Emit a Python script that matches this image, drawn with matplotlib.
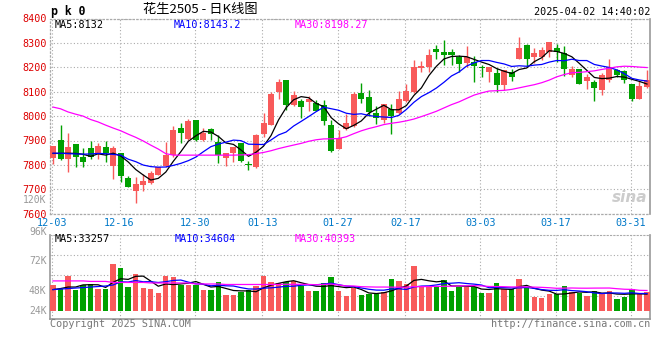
import matplotlib
matplotlib.use("Agg")
import matplotlib.pyplot as plt
import matplotlib.transforms as mtransforms
import numpy as np
import pandas as pd

# ---- data ----
dates = ["12-03", "12-04", "12-05", "12-06", "12-09", "12-10", "12-11", "12-12", "12-13",
         "12-16", "12-17", "12-18", "12-19", "12-20", "12-23", "12-24", "12-25", "12-26",
         "12-27", "12-30", "12-31", "01-02", "01-03", "01-06", "01-07", "01-08", "01-09",
         "01-10", "01-13", "01-14", "01-15", "01-16", "01-17", "01-20", "01-21", "01-22",
         "01-23", "01-24", "01-27", "02-05", "02-06", "02-07", "02-10", "02-11", "02-12",
         "02-13", "02-14", "02-17", "02-18", "02-19", "02-20", "02-21", "02-24", "02-25",
         "02-26", "02-27", "02-28", "03-03", "03-04", "03-05", "03-06", "03-07", "03-10",
         "03-11", "03-12", "03-13", "03-14", "03-17", "03-18", "03-19", "03-20", "03-21",
         "03-24", "03-25", "03-26", "03-27", "03-28", "03-31", "04-01", "04-02"]

opens = [7829, 7902, 7824, 7885, 7833, 7869, 7850, 7873, 7795, 7847,
         7746, 7694, 7719, 7727, 7759, 7795, 7840, 7952, 7906, 7983,
         7902, 7948, 7894, 7829, 7847, 7889, 7803, 7790, 7925, 7964,
         8098, 8147, 8046, 8063, 8058, 8054, 8045, 7964, 7867, 7946,
         7958, 8094, 8079, 8012, 7984, 8030, 8014, 8060, 8098, 8198,
         8201, 8273, 8262, 8262, 8242, 8219, 8220, 8201, 8181, 8175,
         8126, 8181, 8235, 8293, 8242, 8242, 8262, 8280, 8259, 8167,
         8191, 8144, 8140, 8106, 8147, 8187, 8185, 8130, 8072, 8120]
highs = [7879, 7963, 7932, 7887, 7869, 7899, 7888, 7899, 7877, 7849,
         7756, 7750, 7761, 7776, 7793, 7895, 7959, 7970, 7989, 7985,
         7950, 7950, 7921, 7849, 7875, 7891, 7814, 7925, 8014, 8098,
         8152, 8149, 8102, 8072, 8082, 8065, 8065, 7984, 7943, 8007,
         8098, 8136, 8106, 8041, 8050, 8049, 8103, 8133, 8228, 8224,
         8273, 8293, 8312, 8276, 8251, 8286, 8248, 8210, 8203, 8198,
         8190, 8194, 8323, 8295, 8280, 8282, 8305, 8296, 8286, 8204,
         8193, 8174, 8147, 8178, 8235, 8194, 8187, 8133, 8144, 8190]
lows = [7805, 7822, 7771, 7791, 7791, 7824, 7824, 7813, 7743, 7731,
        7709, 7643, 7694, 7722, 7757, 7793, 7833, 7888, 7904, 7900,
        7900, 7902, 7809, 7797, 7813, 7810, 7780, 7788, 7916, 7962,
        8069, 8025, 8040, 7993, 8022, 8020, 7964, 7852, 7865, 7944,
        7956, 8054, 8000, 7969, 7973, 7928, 8008, 8058, 8096, 8181,
        8181, 8235, 8208, 8208, 8181, 8201, 8140, 8160, 8140, 8099,
        8106, 8144, 8232, 8201, 8219, 8228, 8244, 8221, 8164, 8160,
        8131, 8113, 8063, 8088, 8140, 8160, 8137, 8063, 8069, 8117]
closes = [7877, 7824, 7873, 7831, 7813, 7833, 7877, 7847, 7870, 7756,
          7711, 7722, 7734, 7767, 7790, 7840, 7943, 7930, 7981, 7902,
          7932, 7928, 7840, 7847, 7873, 7818, 7798, 7923, 7972, 8091,
          8139, 8046, 8086, 8037, 8069, 8022, 7981, 7859, 7909, 7970,
          8091, 8072, 8016, 7993, 8050, 8000, 8071, 8102, 8201, 8205,
          8252, 8262, 8251, 8251, 8212, 8242, 8206, 8196, 8201, 8129,
          8187, 8160, 8278, 8232, 8258, 8269, 8303, 8262, 8191, 8191,
          8133, 8160, 8117, 8167, 8201, 8167, 8147, 8072, 8124, 8147]
# volume in thousands of lots
volumes = [51, 44, 69, 41, 51, 53, 43, 43, 92, 85,
           47, 73, 45, 43, 35, 69, 67, 51, 51, 51,
           41, 41, 57, 31, 31, 37, 41, 49, 69, 57,
           55, 57, 59, 49, 39, 39, 55, 67, 39, 29,
           45, 31, 33, 33, 37, 63, 59, 53, 88, 47,
           49, 49, 61, 39, 47, 47, 47, 35, 35, 55,
           43, 43, 63, 47, 27, 25, 33, 33, 49, 37,
           35, 29, 39, 35, 39, 24, 27, 43, 35, 37]

# moving-average values at the start of the window (they depend on earlier days)
ma5_head = [7847, 7847, 7848, 7847]
ma10_head = [7848, 7848, 7846, 7845, 7844, 7845, 7847, 7846, 7843]
ma30_head = [8037, 8030, 8017, 8008, 8000, 7986, 7976, 7963, 7951, 7940,
             7926, 7913, 7898, 7881, 7865, 7846, 7840, 7840, 7840, 7840,
             7840, 7840, 7840, 7840, 7840, 7841, 7842, 7846, 7851]
vma5_head = [42, 44, 47, 47]
vma10_head = [42, 43, 44, 45, 46, 47, 48, 49, 51]
vma30_head = [59, 59, 59, 59, 59, 58, 58, 58, 56, 56,
              56, 56, 56, 55, 55, 55, 55, 55, 55, 53,
              53, 53, 53, 52, 52, 52, 52, 52, 52]

tick_dates = ["12-03", "12-16", "12-30", "01-13", "01-27", "02-17", "03-03", "03-17", "03-31"]
price_ticks = [7600, 7700, 7800, 7900, 8000, 8100, 8200, 8300, 8400]
vol_labels = ["120K", "96K", "72K", "48K", "24K"]
vol_label_y = [200, 232, 261, 291, 311]   # pixel rows where sina prints them

title = "花生2505 - 日K线图"
stamp = "2025-04-02 14:40:02"
ma_text = ["MA5:8132", "MA10:8143.2", "MA30:8198.27"]
vma_text = ["MA5:33257", "MA10:34604", "MA30:40393"]


def with_head(series, n, head):
    out = pd.Series(series).rolling(n).mean().to_numpy()
    out[:len(head)] = head
    return out


RED = "#f85a5a"
GREEN = "#00a000"
GRID = "#aaaaaa"
MONO = "DejaVu Sans Mono"
plt.rcParams["font.family"] = ["Noto Sans CJK SC", "DejaVu Sans"]

W, H = 660, 360
fig = plt.figure(figsize=(6.6, 3.6), dpi=100)
fig.patch.set_facecolor("white")


def fx(x):
    return x / W


def fy(y):
    return 1 - y / H


x = np.arange(len(closes))
o = np.array(opens)
c = np.array(closes)
up = c >= o
colors = np.where(up, RED, GREEN)
tick_pos = [dates.index(d) - 0.15 for d in tick_dates]

# ---------------- price panel ----------------
ax = fig.add_axes([fx(50), fy(213.7), 600 / W, 195.2 / H])
ax.set_xlim(-0.4, 79.4)
ax.set_ylim(7600, 8400)

ax.vlines(x, lows, highs, colors=colors, lw=1.0, zorder=3)
bottoms = np.minimum(o, c)
heights = np.maximum(np.abs(c - o), 3)
ax.bar(x, heights, bottom=bottoms, width=0.8, color=colors, lw=0, zorder=4)

ax.plot(x, with_head(closes, 5, ma5_head), color="black", lw=0.9, zorder=5)
ax.plot(x, with_head(closes, 10, ma10_head), color="#0000ff", lw=0.9, zorder=5)
ax.plot(x, with_head(closes, 30, ma30_head), color="#ff00ff", lw=0.9, zorder=5)

ax.set_yticks(price_ticks)
ax.set_yticklabels([str(v) for v in price_ticks], color="#dd0000",
                   fontfamily=MONO, fontsize=7.3)
shift = mtransforms.ScaledTranslation(0, 2.5 / 100, fig.dpi_scale_trans)
for lbl in ax.get_yticklabels():
    lbl.set_transform(lbl.get_transform() + shift)
ax.set_xticks(tick_pos)
ax.set_xticklabels(tick_dates, color="#0078c8", fontfamily=MONO, fontsize=7.3)
ax.tick_params(length=0, pad=2.6)
ax.tick_params(axis="x", pad=2.8)
ax.grid(True, color=GRID, lw=0.8, ls=(0, (1, 2)))
ax.set_axisbelow(True)
for s in ["left", "top", "bottom"]:
    ax.spines[s].set_color(GRID)
    ax.spines[s].set_linestyle((0, (1, 2)))
    ax.spines[s].set_linewidth(0.9)
ax.spines["right"].set_color("#999999")
ax.spines["right"].set_linewidth(1.2)

ax.text(0.995, 0.045, "sina", transform=ax.transAxes, ha="right", va="bottom",
        fontsize=11, fontstyle="italic", fontweight="bold", color="#cccccc",
        fontfamily="DejaVu Sans", zorder=1)

# ---------------- volume panel ----------------
k = 0.51  # px per thousand
axv = fig.add_axes([fx(50), fy(318.7), 600 / W, 84 / H])
axv.set_xlim(-0.4, 79.4)
axv.set_ylim(-(318.7 - 311) / k, (311 - 234.7) / k)
axv.bar(x, volumes, width=0.72, color=colors, lw=0, zorder=3)
axv.plot(x, with_head(volumes, 5, vma5_head), color="black", lw=0.9, zorder=5)
axv.plot(x, with_head(volumes, 10, vma10_head), color="#0000ff", lw=0.9, zorder=5)
axv.plot(x, with_head(volumes, 30, vma30_head), color="#ff00ff", lw=0.9, zorder=5)
axv.set_yticks([(311 - yy) / k for yy in (255.3, 275.3, 295.7)])
axv.set_yticklabels([])
axv.set_xticks(tick_pos)
axv.set_xticklabels([])
axv.tick_params(length=0)
axv.grid(True, color=GRID, lw=0.8, ls=(0, (1, 2)))
axv.set_axisbelow(True)
axv.spines["top"].set_color(GRID)
axv.spines["top"].set_linestyle((0, (1, 2)))
for s in ["left", "right", "bottom"]:
    axv.spines[s].set_color("#999999")
    axv.spines[s].set_linewidth(1.2)

for lab, yy in zip(vol_labels, vol_label_y):
    fig.text(fx(46.5), fy(yy), lab, ha="right", va="center", color="#999999",
             fontfamily=MONO, fontsize=7.0)

# ---------------- header / footer text ----------------
fig.text(fx(51), fy(11), "p k 0", ha="left", va="center", fontfamily=MONO,
         fontweight="bold", fontsize=8.3)
fig.text(fx(200), fy(10), title, ha="center", va="center", fontsize=9.5,
         color="black")
fig.text(fx(650), fy(12), stamp, ha="right", va="center", fontfamily=MONO,
         fontsize=7.3, color="black")

for t, xx, col in zip(ma_text, (55, 174, 295), ("black", "#0000ff", "#ff00ff")):
    fig.text(fx(xx), fy(24.5), t, ha="left", va="center", fontfamily=MONO,
             fontsize=7.3, color=col)
for t, xx, col in zip(vma_text, (55, 175, 295), ("black", "#0000ff", "#ff00ff")):
    fig.text(fx(xx), fy(239.5), t, ha="left", va="center", fontfamily=MONO,
             fontsize=7.3, color=col)

fig.text(fx(50), fy(324), "Copyright 2025 SINA.COM", ha="left", va="center",
         fontfamily=MONO, fontsize=7.3, color="#777777")
fig.text(fx(650), fy(324), "http://finance.sina.com.cn", ha="right", va="center",
         fontfamily=MONO, fontsize=7.3, color="#777777")

fig.savefig("out.png", dpi=100)
